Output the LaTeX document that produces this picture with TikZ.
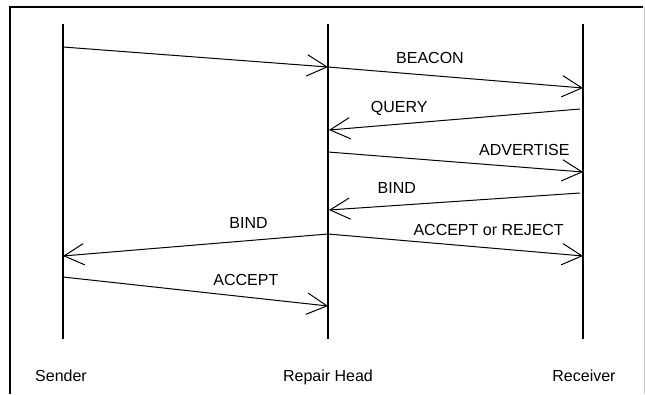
\documentclass[tikz,border=0pt]{standalone}
\usepackage{fontspec}
\setmainfont{Liberation Sans}
\usepackage{tikz}
\usetikzlibrary{arrows.meta, positioning}
\tikzstyle{lifeline} = [line width=1.5pt]
\tikzstyle{msg} = [line width=0.75pt, -{Straight Barb[length=15pt,width=16pt]}]
\tikzstyle{lbl} = [anchor=base, yshift=9pt, inner sep=0pt, font=\fontsize{12}{14}\selectfont]
\tikzstyle{actor} = [anchor=base, inner sep=0pt, font=\fontsize{12}{14}\selectfont]

\begin{document}
\begin{tikzpicture}[x=0.75pt, y=-0.75pt]
  \useasboundingbox (0,0) rectangle (645,394);
  % frame
  \draw[line width=1pt] (10,394) |- (643,7);
  \draw[black!20, line width=0.75pt] (644,7) -- (644,394);

  % lifelines
  \coordinate (snd-top) at (63,24);  \coordinate (snd-bot) at (63,339);
  \coordinate (rph-top) at (328,24); \coordinate (rph-bot) at (328,339);
  \coordinate (rcv-top) at (583,24); \coordinate (rcv-bot) at (583,339);
  \draw[lifeline] (snd-top) -- (snd-bot);
  \draw[lifeline] (rph-top) -- (rph-bot);
  \draw[lifeline] (rcv-top) -- (rcv-bot);
  \node[actor] (sender) at (61,381) {Sender};
  \node[actor] (repair) at (328,381) {Repair Head};
  \node[actor] (receiver) at (584,381) {Receiver};

  % message ends
  \coordinate (s1) at (63,47);   \coordinate (h1) at (328,67);
  \coordinate (r1) at (583,88);
  \coordinate (r2) at (580,109); \coordinate (h2) at (329,130);
  \coordinate (h3) at (328,152); \coordinate (r3) at (583,172);
  \coordinate (r4) at (580,193); \coordinate (h4) at (329,210);
  \coordinate (h5) at (328,234); \coordinate (s5) at (63,256);
  \coordinate (r5) at (583,256);
  \coordinate (s6) at (63,277);  \coordinate (h6) at (328,306);

  % messages
  \draw[msg] (s1) -- (h1);
  \draw[msg] (h1) -- node[lbl, pos=0.4] {BEACON} (r1);
  \draw[msg] (r2) -- node[lbl, pos=0.72] {QUERY} (h2);
  \draw[msg] (h3) -- node[lbl, pos=0.77] {ADVERTISE} (r3);
  \draw[msg] (r4) -- node[lbl, pos=0.73] {BIND} (h4);
  \draw[msg] (h5) -- node[lbl, pos=0.3] {BIND} (s5);
  \draw[msg] (h5) -- node[lbl, pos=0.63] {ACCEPT or REJECT} (r5);
  \draw[msg] (s6) -- node[lbl, pos=0.69] {ACCEPT} (h6);
\end{tikzpicture}
\end{document}
